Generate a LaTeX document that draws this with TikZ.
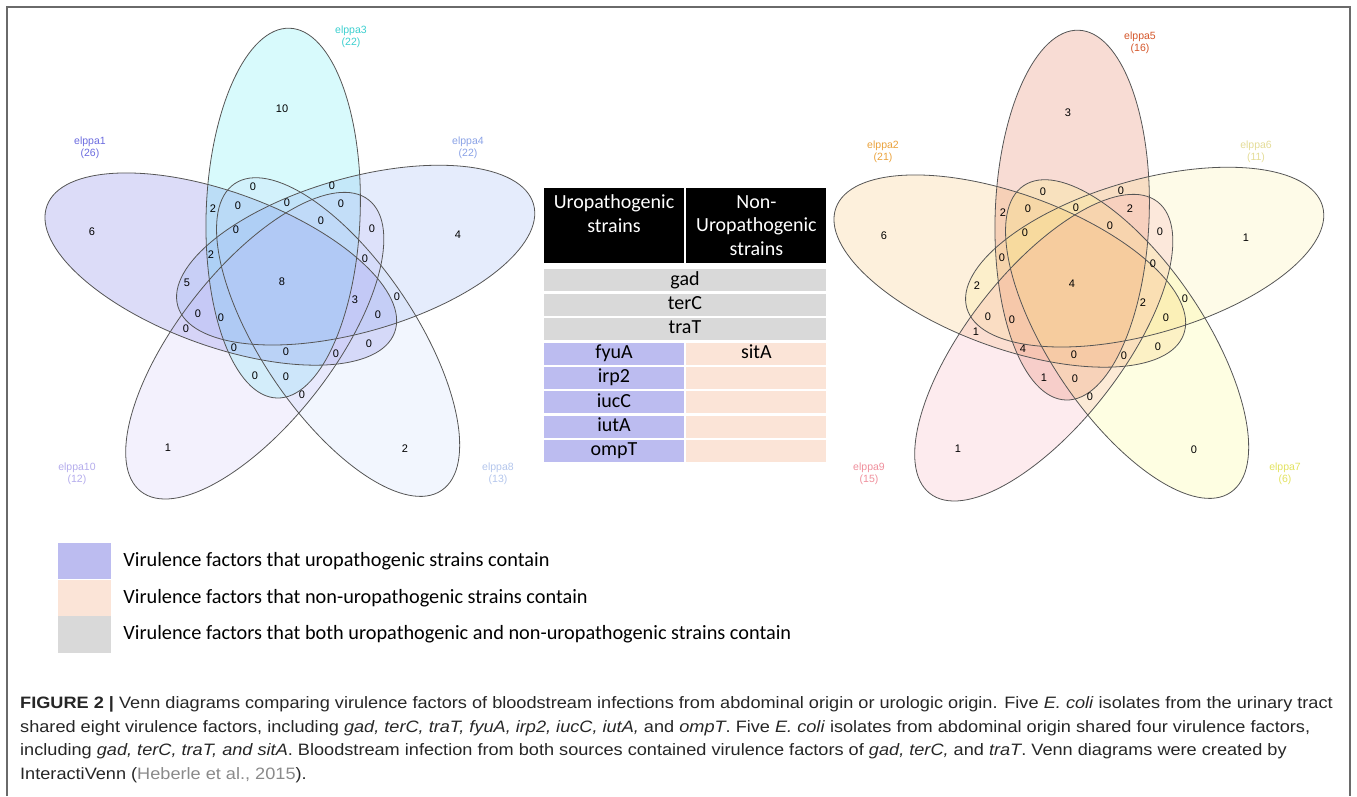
\documentclass[tikz,border=0pt]{standalone}
\usepackage{fontspec}
\setmainfont{Liberation Sans}
\newfontfamily\calibri{Carlito}
\newfontfamily\capfont[FakeStretch=1.1]{Liberation Sans}
\usetikzlibrary{positioning}

\definecolor{vennLine}{HTML}{555555}
\definecolor{frameGray}{HTML}{6A6A6A}
% left diagram sets
\definecolor{setA}{HTML}{3D3DD8}
\definecolor{setB}{HTML}{26E3EE}
\definecolor{setC}{HTML}{6F95EE}
\definecolor{setD}{HTML}{B7CDF9}
\definecolor{setE}{HTML}{BCB1F4}
\definecolor{labA}{HTML}{6B6BDF}
\definecolor{labB}{HTML}{3CCFCF}
\definecolor{labC}{HTML}{8AA2E6}
\definecolor{labD}{HTML}{B4C6EC}
\definecolor{labE}{HTML}{B4ACEC}
% right diagram sets
\definecolor{setF}{HTML}{F4AC3D}
\definecolor{setG}{HTML}{D83D10}
\definecolor{setH}{HTML}{F9E97F}
\definecolor{setI}{HTML}{F9F95E}
\definecolor{setJ}{HTML}{F490A1}
\definecolor{labF}{HTML}{EAA23C}
\definecolor{labG}{HTML}{D4562A}
\definecolor{labH}{HTML}{E4DC98}
\definecolor{labI}{HTML}{E2E260}
\definecolor{labJ}{HTML}{EF8F9C}
% table cells
\definecolor{uroCell}{HTML}{BCBCF0}
\definecolor{nonCell}{HTML}{FBE4D7}
\definecolor{bothCell}{HTML}{D9D9D9}
\definecolor{refGray}{HTML}{8A8A8A}

\tikzset {
  % transparent fill of one set
  venn fill/.style = {
    fill = #1,
    fill opacity = 0.18
  },
  % outline of one set
  venn line/.style = {
    draw = vennLine,
    line width = 0.8pt
  },
  % region count
  cnt/.style = {
    inner sep = 0,
    font = \fontsize{11}{12}\selectfont
  },
  % set name and size
  setlabel/.style = {
    inner sep = 0,
    align = center,
    text = #1,
    font = \fontsize{10.5}{12}\selectfont
  }
}
\tikzset {
  cell/.style = {
    inner sep = 0,
    minimum height = 22pt,
    text height = 14pt,
    text depth = 4.5pt,
    font = \calibri\fontsize{20}{22}\selectfont
  },
  % header cell
  hcell/.style = {
    cell,
    fill = black,
    text = white,
    minimum width = 140pt,
    minimum height = 75pt,
    text height = ,
    text depth = ,
    align = center,
    font = \calibri\fontsize{20}{23.5}\selectfont
  },
  both/.style = {
    cell,
    fill = bothCell,
    minimum width = 282pt
  },
  uro/.style = {
    cell,
    fill = uroCell,
    minimum width = 140pt
  },
  non/.style = {
    cell,
    fill = nonCell,
    minimum width = 140pt
  },
  % legend swatch
  key/.style = {
    inner sep = 0,
    minimum width = 53pt,
    minimum height = 36.3pt
  },
  keytext/.style = {
    inner sep = 0,
    font = \calibri\fontsize{20.3}{22}\selectfont
  },
  captext/.style = {
    inner sep = 0,
    text = black!85,
    font = \capfont\fontsize{16.5}{18}\selectfont
  }
}

\begin{document}
\begin{tikzpicture}[x=1pt, y=-1pt]
  \useasboundingbox (0,0) rectangle (1357,796);
  \draw[frameGray, line width=1.5pt] (7,796) -- (7,7) -- (1350,7) -- (1350,796);

  \coordinate (leftC) at (290.5,284);
  \coordinate (rightC) at (1079.5,286);

  % left diagram
  \foreach \ang/\col in {160/setA, 88/setB, 16/setC, 304/setD, 232/setE}
    \fill[venn fill=\col, shift={(leftC)}, rotate=\ang]
      (70.6pt,9.8pt) ellipse [x radius=185pt, y radius=77pt];
  \foreach \ang in {160, 88, 16, 304, 232}
    \draw[venn line, shift={(leftC)}, rotate=\ang]
      (70.6pt,9.8pt) ellipse [x radius=185pt, y radius=77pt];

  % right diagram
  \foreach \ang/\col in {160/setF, 88/setG, 16/setH, 304/setI, 232/setJ}
    \fill[venn fill=\col, shift={(rightC)}, rotate=\ang]
      (70.6pt,9.8pt) ellipse [x radius=185pt, y radius=77pt];
  \foreach \ang in {160, 88, 16, 304, 232}
    \draw[venn line, shift={(rightC)}, rotate=\ang]
      (70.6pt,9.8pt) ellipse [x radius=185pt, y radius=77pt];

  \foreach \x/\y/\n [count=\i] in {282/109/10, 92/232/6, 458/235/4, 168/448/1,
      405/449/2, 282/282/8, 253/187/0, 332/186/0, 213/209/2, 238/206/0,
      287/203/0, 341/204/0, 321/221/0, 372/229/0, 236/230/0, 211/255/2,
      365/259/0, 187/283/5, 355/300/3, 397/297/0, 198/314/0, 221/318/0,
      378/315/0, 186/329/0, 234/348/0, 286/352/0, 336/354/0, 369/344/0,
      255/376/0, 286/377/0, 302/395/0}
    \node[cnt] (l\i) at (\x,\y) {\n};

  \foreach \x/\y/\n [count=\i] in {1068/113/3, 884/236/6, 1246/238/1, 958/449/1,
      1194/450/0, 1072/284/4, 1043/192/0, 1121/191/0, 1003/213/2, 1028/209/0,
      1076/208/0, 1130/209/2, 1110/226/0, 1160/232/0, 1025/233/0, 1002/258/0,
      1153/264/0, 977/286/2, 1143/303/2, 1185/299/0, 988/317/0, 1012/320/0,
      1166/318/0, 976/332/1, 1158/347/0, 1023/349/4, 1074/355/0, 1124/356/0,
      1044/378/1, 1075/379/0, 1090/397/0}
    \node[cnt] (r\i) at (\x,\y) {\n};

  \node[setlabel=labA] (setOne) at (90,148) {elppa1\\(26)};
  \node[setlabel=labB] (setThree) at (351,37) {elppa3\\(22)};
  \node[setlabel=labC] (setFour) at (468,148) {elppa4\\(22)};
  \node[setlabel=labE] (setTen) at (77,474) {elppa10\\(12)};
  \node[setlabel=labD] (setEight) at (498,474) {elppa8\\(13)};

  \node[setlabel=labG] (setFive) at (1140,43) {elppa5\\(16)};
  \node[setlabel=labF] (setTwo) at (883,152) {elppa2\\(21)};
  \node[setlabel=labH] (setSix) at (1256,152) {elppa6\\(11)};
  \node[setlabel=labJ] (setNine) at (869,474) {elppa9\\(15)};
  \node[setlabel=labI] (setSeven) at (1285,474) {elppa7\\(6)};

  % table of shared factors
  \node[hcell] (uroHead) at (614,225.5) {Uropathogenic\\strains\\~};
  \node[hcell] (nonHead) [right=2pt of uroHead] {Non-\\Uropathogenic\\strains};
  \node[both] (gad) [below=6pt of uroHead.south west, anchor=north west] {gad};
  \node[both] (terC) [below=2pt of gad] {terC};
  \node[both] (traT) [below=2pt of terC] {traT};
  \node[uro] (fyuA) [below=2pt of traT.south west, anchor=north west] {fyuA};
  \node[non] (sitA) [right=2pt of fyuA] {sitA};
  \node[uro] (irp) [below=2pt of fyuA] {irp2};
  \node[non] (irpNon) [right=2pt of irp] {};
  \node[uro] (iucC) [below=2pt of irp] {iucC};
  \node[non] (iucNon) [right=2pt of iucC] {};
  \node[uro] (iutA) [below=2pt of iucC] {iutA};
  \node[non] (iutNon) [right=2pt of iutA] {};
  \node[uro] (ompT) [below=2pt of iutA] {ompT};
  \node[non] (ompNon) [right=2pt of ompT] {};

  % legend
  \node[key, fill=uroCell] (keyUro) at (84.5,561) {};
  \node[key, fill=nonCell] (keyNon) [below=0pt of keyUro] {};
  \node[key, fill=bothCell] (keyBoth) [below=0pt of keyNon] {};
  \node[keytext] (keyUroText) [right=12pt of keyUro] {Virulence factors that uropathogenic strains contain};
  \node[keytext] (keyNonText) [right=12pt of keyNon] {Virulence factors that non-uropathogenic strains contain};
  \node[keytext] (keyBothText) [right=12pt of keyBoth] {Virulence factors that both uropathogenic and non-uropathogenic strains contain};

  % caption
  \node[captext, anchor=base west] (capOne) at (20,708.5) {\textbf{FIGURE 2 |} Venn diagrams comparing virulence factors of bloodstream infections from abdominal origin or urologic origin. Five \textit{E. coli} isolates from the urinary tract};
  \node[captext, anchor=base west] (capTwo) at (20,732) {shared eight virulence factors, including \textit{gad, terC, traT, fyuA, irp2, iucC, iutA,} and \textit{ompT}. Five \textit{E. coli} isolates from abdominal origin shared four virulence factors,};
  \node[captext, anchor=base west] (capThree) at (20,755.5) {including \textit{gad, terC, traT, and sitA}. Bloodstream infection from both sources contained virulence factors of \textit{gad, terC,} and \textit{traT}. Venn diagrams were created by};
  \node[captext, anchor=base west] (capFour) at (20,779) {InteractiVenn ({\color{refGray}Heberle et al., 2015}).};
\end{tikzpicture}
\end{document}
